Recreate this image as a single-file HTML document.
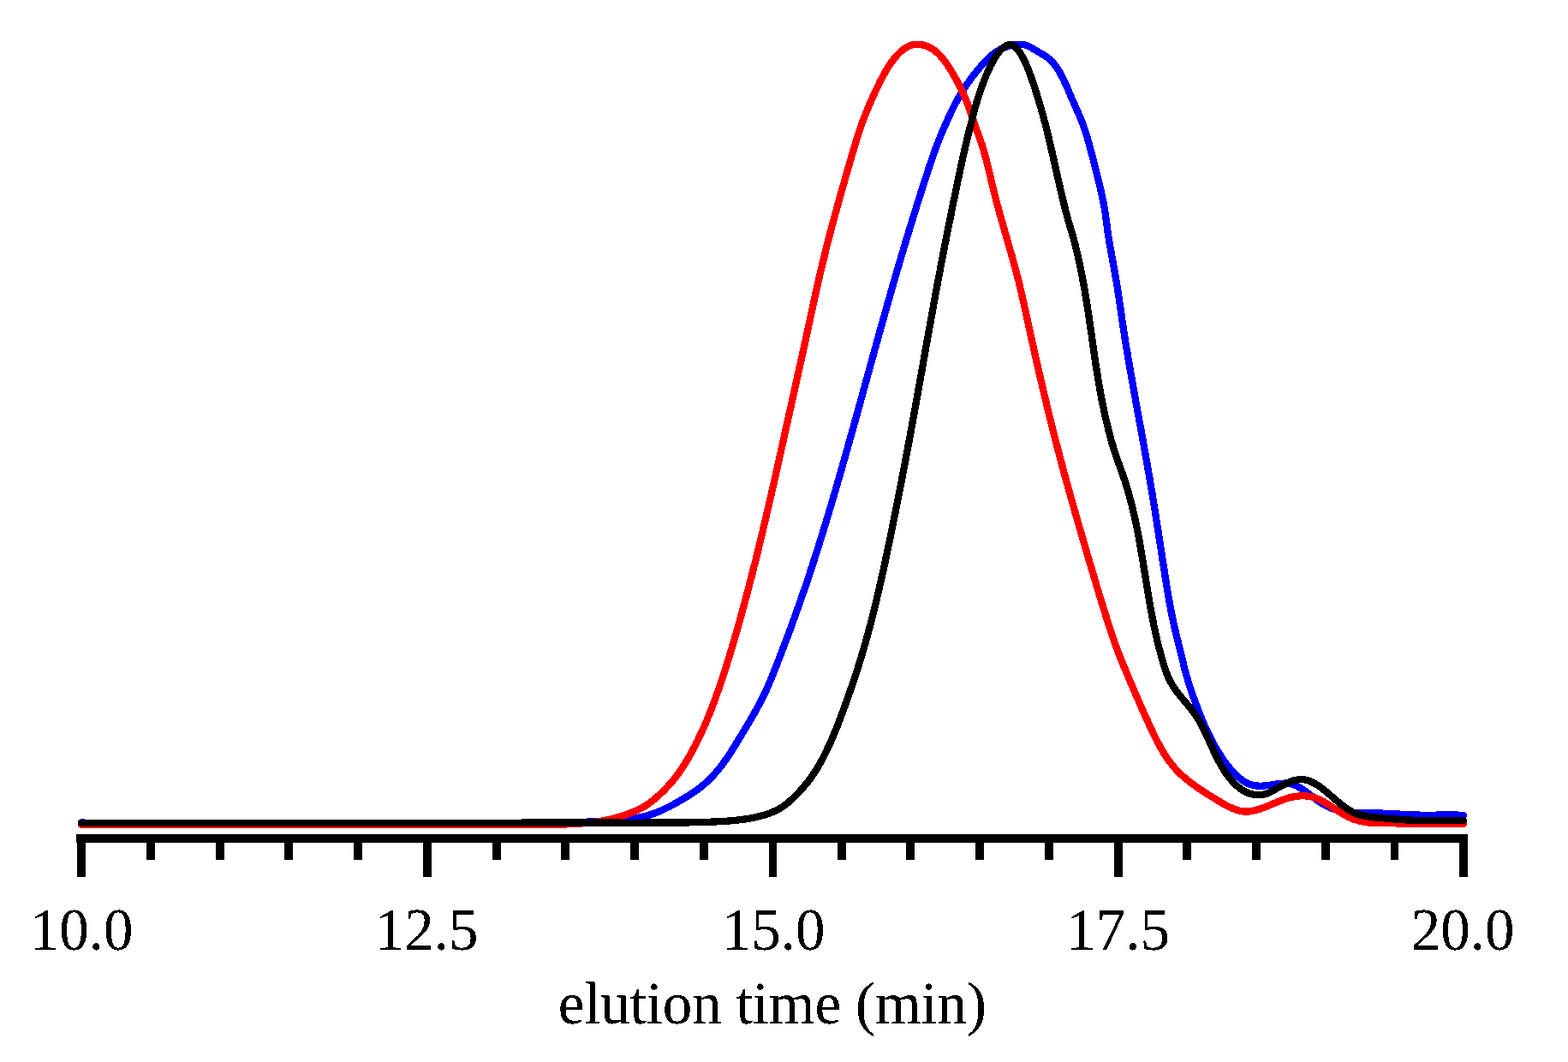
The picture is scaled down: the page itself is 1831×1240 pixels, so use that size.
<!DOCTYPE html>
<html lang="en">
<head>
<meta charset="utf-8">
<title>elution time (min)</title>
<style>
html,body{margin:0;padding:0;background:#fff;}
body{width:1831px;height:1240px;overflow:hidden;}
svg{display:block;}
text{font-family:"Liberation Serif","DejaVu Serif",serif;font-size:69px;fill:#000;}
.c{fill:none;stroke-width:8.3;stroke-linecap:round;stroke-linejoin:round;}
</style>
</head>
<body>
<svg width="1831" height="1240" viewBox="0 0 1831 1240">
<defs><filter id="bw" x="0" y="0" width="100%" height="100%" filterUnits="userSpaceOnUse" color-interpolation-filters="sRGB"><feComponentTransfer><feFuncA type="discrete" tableValues="0 0 1 1 1"/></feComponentTransfer></filter></defs>
<rect width="1831" height="1240" fill="#fff"/>
<g shape-rendering="crispEdges">
<path class="c" stroke="#0000ff" d="M95 960.4L97.5 960.6L100 960.7L102.5 960.7L105 960.8L107.5 960.8L110 960.9L112.5 960.9L115 960.9L117.5 960.9L120 961L122.5 961L125 961L127.5 961L130 961L132.5 961L135 961.1L137.5 961.1L140.1 961.1L142.6 961.1L145.1 961.1L147.6 961.1L150.1 961.1L152.6 961.1L155.1 961.1L157.6 961.1L160.1 961.1L162.6 961.1L165.1 961.1L167.6 961.1L170.1 961.1L172.6 961.1L175.1 961.1L177.6 961.1L180.1 961.1L182.6 961.1L185.1 961.1L187.6 961.1L190.1 961.1L192.6 961.1L195.1 961.1L197.7 961.1L200.2 961.1L202.7 961.1L205.2 961.1L207.7 961.1L210.2 961.1L212.7 961.1L215.2 961.1L217.7 961.1L220.2 961.1L222.7 961.1L225.2 961.1L227.7 961.1L230.2 961.1L232.7 961.1L235.2 961.1L237.7 961.1L240.2 961.1L242.7 961.1L245.2 961.1L247.7 961.1L250.2 961.1L252.7 961.1L255.2 961.1L257.8 961.1L260.3 961.1L262.8 961.1L265.3 961.1L267.8 961L270.3 961L272.8 961L275.3 961L277.8 961L280.3 961L282.8 961L285.3 961L287.8 961L290.3 961L292.8 961L295.3 961L297.8 961L300.3 961L302.8 961L305.3 961L307.8 961L310.3 961L312.8 961L315.4 961L317.9 961L320.4 961L322.9 961L325.4 961L327.9 961L330.4 961L332.9 961L335.4 961L337.9 961L340.4 961L342.9 961L345.4 961L347.9 961L350.4 960.9L352.9 960.9L355.4 960.9L357.9 960.9L360.4 960.9L362.9 960.9L365.4 960.9L367.9 960.9L370.4 960.9L372.9 960.9L375.5 960.9L378 960.9L380.5 960.9L383 960.9L385.5 960.9L388 960.9L390.5 960.9L393 960.9L395.5 960.9L398 960.9L400.5 960.9L403 960.9L405.5 960.9L408 960.9L410.5 960.9L413 960.9L415.5 960.9L418 960.9L420.5 960.9L423 960.9L425.5 960.9L428 960.9L430.5 960.9L433 960.9L435.6 960.9L438.1 960.9L440.6 960.9L443.1 960.9L445.6 961L448.1 961L450.6 961L453.1 961L455.6 961L458.1 961L460.6 961L463.1 961L465.6 961L468.1 961L470.6 961L473.1 961L475.6 961L478.1 961L480.6 961L483.1 961L485.6 961L488.1 961L490.6 961L493.2 961L495.7 961L498.2 961L500.7 961L503.2 961L505.7 961L508.2 961L510.7 961L513.2 961L515.7 961L518.2 961L520.7 961L523.2 961L525.7 961L528.2 961L530.7 961L533.2 961L535.7 961.1L538.2 961.1L540.7 961.1L543.2 961.1L545.7 961.1L548.2 961.1L550.7 961.1L553.3 961.1L555.8 961.1L558.3 961.1L560.8 961.1L563.3 961.1L565.8 961.1L568.3 961.1L570.8 961.1L573.3 961.1L575.8 961.1L578.3 961.1L580.8 961.1L583.3 961.1L585.8 961.1L588.3 961.1L590.8 961.1L593.3 961.1L595.8 961.1L598.3 961.1L600.8 961L603.3 961L605.8 961L608.3 961L610.9 961L613.4 961L615.9 961L618.4 961L620.9 961L623.4 960.9L625.9 960.9L628.4 960.9L630.9 960.9L633.4 960.9L635.9 960.8L638.4 960.8L640.9 960.8L643.4 960.7L645.9 960.7L648.4 960.6L650.9 960.6L653.4 960.5L655.9 960.5L658.4 960.4L660.9 960.3L663.4 960.2L665.9 960.2L668.4 960.1L670.9 960L673.4 959.9L675.9 959.9L678.5 959.8L681 959.7L683.5 959.7L686 959.6L688.5 959.5L691 959.4L693.5 959.3L696 959.2L698.5 959.1L701 959L703.5 958.9L706 958.8L708.5 958.7L711 958.5L713.5 958.3L716 958.2L718.5 958L721 957.8L723.5 957.6L726 957.3L728.5 957.1L730.9 956.8L733.4 956.5L735.9 956.2L738.4 955.9L740.9 955.5L743.3 955.1L745.8 954.6L748.3 954.1L750.7 953.6L753.1 953L755.6 952.4L758 951.7L760.4 950.9L762.7 950.1L765.1 949.3L767.4 948.4L769.7 947.5L772 946.5L774.3 945.4L776.6 944.3L778.8 943.2L781.1 942.1L783.3 940.9L785.5 939.7L787.7 938.5L789.8 937.3L792 936.1L794.2 934.8L796.4 933.6L798.5 932.3L800.7 931L802.8 929.7L804.9 928.4L807.1 927L809.1 925.7L811.2 924.3L813.3 922.8L815.3 921.3L817.3 919.8L819.2 918.2L821.2 916.6L823.1 915L824.9 913.3L826.8 911.6L828.6 909.9L830.3 908.1L832 906.3L833.7 904.5L835.4 902.6L837.1 900.7L838.7 898.8L840.2 896.8L841.8 894.9L843.3 892.9L844.8 890.9L846.2 888.8L847.7 886.8L849.1 884.7L850.5 882.6L851.9 880.5L853.3 878.5L854.6 876.3L856 874.2L857.3 872.1L858.6 870L859.9 867.9L861.2 865.7L862.5 863.6L863.8 861.4L865.1 859.3L866.4 857.1L867.7 855L869 852.9L870.3 850.7L871.6 848.6L872.9 846.4L874.1 844.3L875.4 842.1L876.7 839.9L877.9 837.8L879.2 835.6L880.4 833.4L881.7 831.3L882.9 829.1L884.1 826.9L885.3 824.7L886.5 822.5L887.7 820.3L888.8 818.1L890 815.8L891.1 813.6L892.2 811.3L893.3 809.1L894.3 806.8L895.4 804.5L896.4 802.2L897.4 799.9L898.4 797.6L899.3 795.3L900.3 793L901.3 790.7L902.2 788.4L903.1 786L904 783.7L905 781.4L905.9 779.1L906.8 776.7L907.7 774.4L908.6 772L909.5 769.7L910.4 767.4L911.3 765L912.2 762.7L913.1 760.4L914 758L914.8 755.7L915.7 753.3L916.6 751L917.5 748.7L918.4 746.3L919.3 744L920.2 741.6L921 739.3L921.9 736.9L922.8 734.6L923.7 732.2L924.5 729.9L925.4 727.5L926.2 725.2L927.1 722.8L928 720.5L928.8 718.1L929.7 715.8L930.5 713.4L931.3 711L932.2 708.7L933 706.3L933.8 704L934.7 701.6L935.5 699.2L936.3 696.9L937.1 694.5L937.9 692.1L938.8 689.8L939.6 687.4L940.4 685L941.2 682.7L942 680.3L942.8 677.9L943.6 675.5L944.4 673.2L945.2 670.8L945.9 668.4L946.7 666L947.5 663.6L948.3 661.3L949.1 658.9L949.8 656.5L950.6 654.1L951.4 651.7L952.1 649.4L952.9 647L953.7 644.6L954.4 642.2L955.2 639.8L955.9 637.4L956.7 635L957.4 632.6L958.2 630.2L958.9 627.9L959.7 625.5L960.4 623.1L961.1 620.7L961.9 618.3L962.6 615.9L963.3 613.5L964.1 611.1L964.8 608.7L965.5 606.3L966.2 603.9L967 601.5L967.7 599.1L968.4 596.7L969.1 594.3L969.8 591.9L970.6 589.5L971.3 587.1L972 584.7L972.7 582.3L973.4 579.9L974.1 577.5L974.8 575.1L975.5 572.7L976.2 570.3L976.9 567.9L977.6 565.5L978.3 563.1L979 560.7L979.7 558.3L980.4 555.9L981.1 553.5L981.8 551.1L982.5 548.6L983.1 546.2L983.8 543.8L984.5 541.4L985.2 539L985.9 536.6L986.6 534.2L987.3 531.8L987.9 529.4L988.6 527L989.3 524.6L990 522.1L990.7 519.7L991.3 517.3L992 514.9L992.7 512.5L993.4 510.1L994 507.7L994.7 505.3L995.4 502.9L996.1 500.4L996.7 498L997.4 495.6L998.1 493.2L998.7 490.8L999.4 488.4L1000.1 486L1000.8 483.6L1001.4 481.1L1002.1 478.7L1002.8 476.3L1003.4 473.9L1004.1 471.5L1004.8 469.1L1005.4 466.7L1006.1 464.2L1006.8 461.8L1007.4 459.4L1008.1 457L1008.7 454.6L1009.4 452.2L1010.1 449.8L1010.7 447.3L1011.4 444.9L1012.1 442.5L1012.7 440.1L1013.4 437.7L1014.1 435.3L1014.7 432.9L1015.4 430.4L1016.1 428L1016.7 425.6L1017.4 423.2L1018.1 420.8L1018.7 418.4L1019.4 416L1020.1 413.5L1020.7 411.1L1021.4 408.7L1022.1 406.3L1022.7 403.9L1023.4 401.5L1024.1 399.1L1024.7 396.6L1025.4 394.2L1026.1 391.8L1026.7 389.4L1027.4 387L1028.1 384.6L1028.8 382.2L1029.4 379.8L1030.1 377.3L1030.8 374.9L1031.5 372.5L1032.1 370.1L1032.8 367.7L1033.5 365.3L1034.2 362.9L1034.9 360.5L1035.5 358.1L1036.2 355.7L1036.9 353.2L1037.6 350.8L1038.3 348.4L1039 346L1039.6 343.6L1040.3 341.2L1041 338.8L1041.7 336.4L1042.4 334L1043.1 331.6L1043.8 329.2L1044.5 326.8L1045.2 324.4L1045.9 321.9L1046.6 319.5L1047.3 317.1L1048 314.7L1048.7 312.3L1049.4 309.9L1050.1 307.5L1050.8 305.1L1051.5 302.7L1052.2 300.3L1052.9 297.9L1053.6 295.5L1054.4 293.1L1055.1 290.7L1055.8 288.3L1056.5 285.9L1057.2 283.5L1058 281.1L1058.7 278.7L1059.4 276.3L1060.1 273.9L1060.9 271.5L1061.6 269.1L1062.3 266.8L1063.1 264.4L1063.8 262L1064.6 259.6L1065.3 257.2L1066 254.8L1066.8 252.4L1067.5 250L1068.3 247.6L1069 245.2L1069.8 242.8L1070.5 240.4L1071.3 238.1L1072 235.7L1072.8 233.3L1073.5 230.9L1074.3 228.5L1075 226.1L1075.8 223.7L1076.6 221.3L1077.3 219L1078.1 216.6L1078.8 214.2L1079.6 211.8L1080.4 209.4L1081.1 207L1081.9 204.7L1082.7 202.3L1083.5 199.9L1084.2 197.5L1085 195.1L1085.8 192.8L1086.6 190.4L1087.4 188L1088.2 185.6L1089 183.3L1089.9 180.9L1090.7 178.6L1091.6 176.2L1092.4 173.8L1093.3 171.5L1094.2 169.2L1095.1 166.8L1096 164.5L1096.9 162.2L1097.9 159.8L1098.8 157.5L1099.8 155.2L1100.8 152.9L1101.8 150.6L1102.8 148.3L1103.8 146L1104.8 143.7L1105.8 141.5L1106.8 139.2L1107.9 136.9L1108.9 134.6L1110 132.3L1111 130.1L1112.1 127.8L1113.2 125.6L1114.4 123.3L1115.5 121.1L1116.7 118.9L1117.9 116.7L1119.1 114.5L1120.3 112.3L1121.6 110.2L1122.9 108L1124.2 105.9L1125.6 103.8L1126.9 101.7L1128.3 99.6L1129.7 97.6L1131.2 95.5L1132.6 93.5L1134.1 91.4L1135.6 89.4L1137.2 87.5L1138.7 85.5L1140.3 83.5L1141.9 81.6L1143.5 79.7L1145.1 77.8L1146.8 75.9L1148.4 74L1150.1 72.2L1151.8 70.4L1153.6 68.6L1155.4 66.9L1157.3 65.2L1159.2 63.6L1161.2 62.1L1163.2 60.6L1165.4 59.3L1167.5 58.1L1169.8 56.9L1172 55.9L1174.4 55L1176.7 54.1L1179.1 53.4L1181.6 52.8L1184 52.3L1186.5 51.9L1189 51.7L1191.5 51.7L1194 51.8L1196.4 52.3L1198.8 53L1201.2 54L1203.4 55.1L1205.6 56.3L1207.7 57.7L1209.8 59L1212 60.3L1214.1 61.5L1216.3 62.8L1218.5 64L1220.6 65.4L1222.6 66.8L1224.6 68.3L1226.5 70L1228.3 71.8L1229.9 73.6L1231.5 75.6L1233 77.6L1234.4 79.6L1235.8 81.7L1237.1 83.9L1238.3 86.1L1239.5 88.3L1240.7 90.5L1241.8 92.7L1242.9 95L1243.9 97.3L1245 99.5L1246 101.8L1247 104.1L1248 106.4L1248.9 108.7L1249.9 111L1250.9 113.3L1251.9 115.6L1252.9 117.9L1253.9 120.2L1254.9 122.5L1255.9 124.8L1256.9 127.1L1257.9 129.4L1259 131.7L1260 134L1261 136.3L1261.9 138.6L1262.9 140.9L1263.8 143.2L1264.7 145.6L1265.5 147.9L1266.4 150.3L1267.2 152.7L1267.9 155L1268.7 157.4L1269.4 159.8L1270.1 162.2L1270.8 164.6L1271.5 167.1L1272.1 169.5L1272.8 171.9L1273.4 174.3L1274.1 176.7L1274.7 179.2L1275.3 181.6L1276 184L1276.6 186.4L1277.2 188.8L1277.8 191.3L1278.5 193.7L1279.1 196.1L1279.7 198.6L1280.3 201L1280.9 203.4L1281.5 205.8L1282.1 208.3L1282.7 210.7L1283.3 213.1L1283.9 215.6L1284.5 218L1285 220.5L1285.6 222.9L1286.1 225.3L1286.7 227.8L1287.2 230.2L1287.7 232.7L1288.2 235.1L1288.7 237.6L1289.1 240.1L1289.6 242.5L1290 245L1290.4 247.5L1290.8 249.9L1291.1 252.4L1291.5 254.9L1291.8 257.4L1292.2 259.9L1292.5 262.3L1292.8 264.8L1293.1 267.3L1293.4 269.8L1293.8 272.3L1294.1 274.8L1294.5 277.2L1294.9 279.7L1295.3 282.2L1295.7 284.7L1296.1 287.1L1296.6 289.6L1297 292L1297.5 294.5L1297.9 297L1298.4 299.4L1298.8 301.9L1299.3 304.4L1299.7 306.8L1300.2 309.3L1300.6 311.7L1301.1 314.2L1301.5 316.7L1302 319.1L1302.4 321.6L1302.8 324.1L1303.3 326.5L1303.7 329L1304.1 331.5L1304.5 334L1304.9 336.4L1305.3 338.9L1305.7 341.4L1306 343.9L1306.4 346.3L1306.8 348.8L1307.1 351.3L1307.5 353.8L1307.8 356.2L1308.2 358.7L1308.6 361.2L1308.9 363.7L1309.3 366.2L1309.6 368.6L1310 371.1L1310.3 373.6L1310.7 376.1L1311.1 378.5L1311.4 381L1311.8 383.5L1312.2 386L1312.6 388.5L1313 390.9L1313.3 393.4L1313.7 395.9L1314.1 398.3L1314.5 400.8L1314.9 403.3L1315.3 405.8L1315.8 408.2L1316.2 410.7L1316.6 413.2L1317 415.6L1317.4 418.1L1317.8 420.6L1318.3 423L1318.7 425.5L1319.1 428L1319.5 430.5L1320 432.9L1320.4 435.4L1320.8 437.9L1321.3 440.3L1321.7 442.8L1322.1 445.3L1322.6 447.7L1323 450.2L1323.4 452.6L1323.9 455.1L1324.3 457.6L1324.8 460L1325.2 462.5L1325.7 465L1326.1 467.4L1326.5 469.9L1327 472.4L1327.4 474.8L1327.9 477.3L1328.3 479.8L1328.8 482.2L1329.2 484.7L1329.7 487.1L1330.1 489.6L1330.6 492.1L1331 494.5L1331.5 497L1331.9 499.5L1332.4 501.9L1332.8 504.4L1333.3 506.9L1333.7 509.3L1334.2 511.8L1334.6 514.3L1335 516.7L1335.5 519.2L1335.9 521.6L1336.4 524.1L1336.8 526.6L1337.3 529L1337.7 531.5L1338.1 534L1338.6 536.4L1339 538.9L1339.5 541.4L1339.9 543.8L1340.3 546.3L1340.7 548.8L1341.2 551.2L1341.6 553.7L1342 556.2L1342.5 558.6L1342.9 561.1L1343.3 563.6L1343.7 566L1344.1 568.5L1344.5 571L1345 573.5L1345.4 575.9L1345.8 578.4L1346.2 580.9L1346.6 583.3L1347 585.8L1347.4 588.3L1347.8 590.8L1348.2 593.2L1348.6 595.7L1349 598.2L1349.4 600.6L1349.8 603.1L1350.1 605.6L1350.5 608.1L1350.9 610.5L1351.3 613L1351.7 615.5L1352.1 618L1352.5 620.4L1352.8 622.9L1353.2 625.4L1353.6 627.9L1354 630.3L1354.4 632.8L1354.8 635.3L1355.1 637.8L1355.5 640.2L1355.9 642.7L1356.3 645.2L1356.7 647.7L1357 650.1L1357.4 652.6L1357.8 655.1L1358.2 657.6L1358.6 660L1359 662.5L1359.4 665L1359.8 667.5L1360.1 669.9L1360.5 672.4L1360.9 674.9L1361.3 677.4L1361.7 679.8L1362.1 682.3L1362.5 684.8L1362.9 687.2L1363.3 689.7L1363.7 692.2L1364.1 694.7L1364.6 697.1L1365 699.6L1365.4 702.1L1365.9 704.5L1366.3 707L1366.8 709.4L1367.2 711.9L1367.7 714.4L1368.2 716.8L1368.7 719.3L1369.2 721.7L1369.7 724.2L1370.2 726.6L1370.8 729.1L1371.3 731.5L1371.9 734L1372.5 736.4L1373 738.8L1373.6 741.3L1374.2 743.7L1374.9 746.1L1375.5 748.5L1376.1 751L1376.7 753.4L1377.3 755.8L1377.9 758.3L1378.5 760.7L1379.1 763.1L1379.7 765.6L1380.2 768L1380.8 770.4L1381.4 772.9L1382 775.3L1382.5 777.8L1383.1 780.2L1383.8 782.6L1384.4 785L1385.1 787.4L1385.8 789.9L1386.5 792.3L1387.2 794.7L1387.9 797L1388.7 799.4L1389.5 801.8L1390.2 804.2L1391 806.6L1391.9 808.9L1392.7 811.3L1393.5 813.7L1394.4 816L1395.2 818.4L1396.1 820.7L1396.9 823.1L1397.8 825.4L1398.7 827.8L1399.6 830.1L1400.5 832.4L1401.5 834.8L1402.4 837.1L1403.4 839.4L1404.3 841.7L1405.3 844L1406.3 846.3L1407.3 848.6L1408.4 850.9L1409.4 853.1L1410.5 855.4L1411.6 857.7L1412.7 859.9L1413.8 862.1L1414.9 864.4L1416.1 866.6L1417.3 868.8L1418.5 871L1419.8 873.2L1421 875.3L1422.3 877.5L1423.6 879.6L1425 881.7L1426.3 883.8L1427.7 885.9L1429.1 888L1430.6 890L1432.1 892L1433.6 894L1435.2 895.9L1436.8 897.9L1438.4 899.8L1440.1 901.6L1441.8 903.4L1443.6 905.2L1445.5 906.9L1447.4 908.5L1449.4 910L1451.4 911.5L1453.5 912.8L1455.7 914L1458 915.1L1460.3 916L1462.7 916.7L1465.2 917.2L1467.7 917.5L1470.2 917.7L1472.7 917.7L1475.2 917.6L1477.7 917.4L1480.1 917.1L1482.6 916.7L1485.1 916.3L1487.6 916L1490 915.6L1492.5 915.2L1495 914.9L1497.5 914.7L1500 914.6L1502.5 914.6L1505 914.8L1507.5 915.3L1509.9 915.9L1512.2 916.8L1514.5 917.8L1516.7 919L1518.9 920.3L1521 921.6L1523 923.1L1525.1 924.5L1527.1 926L1529.1 927.5L1531.1 929.1L1533 930.6L1535 932.1L1537.1 933.6L1539.1 935L1541.2 936.4L1543.3 937.8L1545.4 939.1L1547.6 940.3L1549.8 941.5L1552.1 942.5L1554.4 943.5L1556.7 944.5L1559.1 945.3L1561.5 946L1563.9 946.7L1566.3 947.2L1568.8 947.7L1571.3 948.1L1573.8 948.4L1576.2 948.6L1578.7 948.8L1581.2 948.9L1583.7 949L1586.3 949.1L1588.8 949.1L1591.3 949.1L1593.8 949.1L1596.3 949.2L1598.8 949.2L1601.3 949.2L1603.8 949.2L1606.3 949.3L1608.8 949.4L1611.3 949.5L1613.8 949.6L1616.3 949.7L1618.8 949.8L1621.3 949.9L1623.8 950L1626.3 950.2L1628.8 950.3L1631.3 950.4L1633.8 950.6L1636.3 950.7L1638.8 950.8L1641.3 951L1643.8 951.1L1646.3 951.2L1648.8 951.3L1651.3 951.4L1653.8 951.5L1656.3 951.6L1658.8 951.7L1661.3 951.7L1663.8 951.8L1666.3 951.8L1668.8 951.8L1671.3 951.8L1673.8 951.7L1676.3 951.7L1678.8 951.6L1681.4 951.6L1683.9 951.5L1686.4 951.5L1688.9 951.4L1691.4 951.4L1693.9 951.4L1696.4 951.5L1698.9 951.5L1701.4 951.6L1703.9 951.7L1706.4 951.8L1708.9 952"/>
<path class="c" stroke="#ff0000" d="M95 963.1L97.5 963.1L100 963.1L102.5 963.1L105 963.1L107.5 963.1L110 963.1L112.5 963.1L115 963.2L117.5 963.2L120 963.2L122.5 963.2L125.1 963.2L127.6 963.2L130.1 963.2L132.6 963.2L135.1 963.2L137.6 963.2L140.1 963.2L142.6 963.2L145.1 963.2L147.6 963.2L150.1 963.2L152.6 963.2L155.1 963.2L157.6 963.2L160.1 963.2L162.6 963.2L165.1 963.2L167.6 963.2L170.1 963.2L172.6 963.2L175.1 963.2L177.6 963.2L180.1 963.2L182.6 963.2L185.2 963.2L187.7 963.2L190.2 963.2L192.7 963.2L195.2 963.2L197.7 963.2L200.2 963.2L202.7 963.2L205.2 963.2L207.7 963.2L210.2 963.2L212.7 963.2L215.2 963.2L217.7 963.2L220.2 963.2L222.7 963.2L225.2 963.2L227.7 963.2L230.2 963.2L232.7 963.2L235.2 963.2L237.7 963.2L240.2 963.2L242.7 963.2L245.3 963.2L247.8 963.2L250.3 963.2L252.8 963.2L255.3 963.2L257.8 963.2L260.3 963.2L262.8 963.2L265.3 963.2L267.8 963.2L270.3 963.1L272.8 963.1L275.3 963.1L277.8 963.1L280.3 963.1L282.8 963.1L285.3 963.1L287.8 963.1L290.3 963.1L292.8 963.1L295.3 963.1L297.8 963.1L300.3 963.1L302.8 963.1L305.4 963.1L307.9 963.1L310.4 963.1L312.9 963.1L315.4 963.1L317.9 963.1L320.4 963.1L322.9 963.1L325.4 963.1L327.9 963.1L330.4 963.1L332.9 963.1L335.4 963.1L337.9 963.1L340.4 963L342.9 963L345.4 963L347.9 963L350.4 963L352.9 963L355.4 963L357.9 963L360.4 963L362.9 963L365.5 963L368 963L370.5 963L373 963L375.5 963L378 963L380.5 963L383 963L385.5 963L388 963L390.5 963L393 963L395.5 963L398 963L400.5 963L403 963L405.5 963L408 963L410.5 963L413 963L415.5 963L418 963L420.5 963L423 963L425.6 963L428.1 963L430.6 963L433.1 963L435.6 963L438.1 963L440.6 963L443.1 963L445.6 963L448.1 963L450.6 963L453.1 963L455.6 963L458.1 963L460.6 963L463.1 963L465.6 963L468.1 963L470.6 963L473.1 963L475.6 963L478.1 963L480.6 963L483.1 963L485.7 963L488.2 963L490.7 963L493.2 963.1L495.7 963.1L498.2 963.1L500.7 963.1L503.2 963.1L505.7 963.1L508.2 963.1L510.7 963.1L513.2 963.1L515.7 963.1L518.2 963.1L520.7 963.1L523.2 963.1L525.7 963.1L528.2 963.2L530.7 963.2L533.2 963.2L535.7 963.2L538.2 963.2L540.7 963.2L543.2 963.2L545.8 963.2L548.3 963.2L550.8 963.2L553.3 963.2L555.8 963.2L558.3 963.2L560.8 963.3L563.3 963.3L565.8 963.3L568.3 963.3L570.8 963.3L573.3 963.3L575.8 963.3L578.3 963.3L580.8 963.3L583.3 963.3L585.8 963.3L588.3 963.3L590.8 963.3L593.3 963.3L595.8 963.3L598.3 963.3L600.8 963.3L603.3 963.3L605.9 963.3L608.4 963.2L610.9 963.2L613.4 963.2L615.9 963.2L618.4 963.2L620.9 963.2L623.4 963.1L625.9 963.1L628.4 963.1L630.9 963.1L633.4 963L635.9 963L638.4 963L640.9 962.9L643.4 962.9L645.9 962.8L648.4 962.8L650.9 962.7L653.4 962.6L655.9 962.6L658.4 962.5L660.9 962.4L663.4 962.3L665.9 962.2L668.4 962.1L670.9 961.9L673.4 961.8L675.9 961.6L678.4 961.5L680.9 961.3L683.4 961L685.9 960.8L688.4 960.6L690.9 960.3L693.4 960L695.9 959.6L698.3 959.3L700.8 958.9L703.3 958.4L705.7 958L708.2 957.5L710.6 957L713.1 956.4L715.5 955.8L717.9 955.2L720.4 954.5L722.8 953.8L725.2 953.1L727.6 952.3L729.9 951.6L732.3 950.7L734.6 949.9L737 949L739.3 948L741.6 947.1L743.9 946L746.2 944.9L748.4 943.8L750.6 942.6L752.7 941.4L754.9 940L757 938.6L759 937.2L761 935.7L763 934.1L764.9 932.5L766.8 930.9L768.7 929.2L770.5 927.5L772.3 925.8L774.1 924.1L775.9 922.3L777.6 920.5L779.3 918.7L781 916.8L782.7 915L784.3 913.1L786 911.2L787.6 909.2L789.1 907.3L790.6 905.3L792.1 903.3L793.6 901.2L795 899.2L796.4 897.1L797.8 895L799.1 892.9L800.4 890.7L801.7 888.6L803 886.4L804.2 884.3L805.5 882.1L806.7 879.9L807.9 877.7L809.1 875.5L810.2 873.3L811.4 871.1L812.5 868.8L813.6 866.6L814.8 864.3L815.9 862.1L816.9 859.8L818 857.6L819.1 855.3L820.1 853L821.2 850.8L822.2 848.5L823.2 846.2L824.2 843.9L825.2 841.6L826.1 839.3L827.1 836.9L828 834.6L829 832.3L829.9 830L830.8 827.6L831.7 825.3L832.6 823L833.5 820.6L834.3 818.3L835.2 815.9L836 813.6L836.9 811.2L837.7 808.8L838.6 806.5L839.4 804.1L840.2 801.8L841 799.4L841.8 797L842.6 794.6L843.4 792.3L844.2 789.9L845 787.5L845.7 785.1L846.5 782.7L847.3 780.4L848 778L848.8 775.6L849.5 773.2L850.3 770.8L851 768.4L851.7 766L852.5 763.6L853.2 761.2L853.9 758.8L854.6 756.4L855.4 754L856.1 751.6L856.8 749.2L857.5 746.8L858.2 744.4L858.9 742L859.6 739.6L860.3 737.2L861 734.8L861.7 732.4L862.3 730L863 727.6L863.7 725.2L864.4 722.7L865 720.3L865.7 717.9L866.4 715.5L867 713.1L867.7 710.7L868.3 708.3L869 705.8L869.6 703.4L870.3 701L870.9 698.6L871.6 696.2L872.2 693.7L872.9 691.3L873.5 688.9L874.1 686.5L874.8 684L875.4 681.6L876 679.2L876.6 676.8L877.3 674.3L877.9 671.9L878.5 669.5L879.1 667.1L879.7 664.6L880.3 662.2L880.9 659.8L881.6 657.4L882.2 654.9L882.8 652.5L883.4 650.1L884 647.6L884.6 645.2L885.2 642.8L885.8 640.3L886.4 637.9L886.9 635.5L887.5 633L888.1 630.6L888.7 628.2L889.3 625.7L889.9 623.3L890.5 620.9L891 618.4L891.6 616L892.2 613.6L892.8 611.1L893.3 608.7L893.9 606.2L894.5 603.8L895.1 601.4L895.6 598.9L896.2 596.5L896.8 594L897.3 591.6L897.9 589.2L898.4 586.7L899 584.3L899.6 581.8L900.1 579.4L900.7 577L901.2 574.5L901.8 572.1L902.3 569.6L902.9 567.2L903.5 564.8L904 562.3L904.6 559.9L905.1 557.4L905.7 555L906.2 552.5L906.8 550.1L907.3 547.7L907.9 545.2L908.4 542.8L908.9 540.3L909.5 537.9L910 535.4L910.6 533L911.1 530.5L911.7 528.1L912.2 525.7L912.8 523.2L913.3 520.8L913.8 518.3L914.4 515.9L914.9 513.4L915.5 511L916 508.5L916.5 506.1L917.1 503.6L917.6 501.2L918.2 498.8L918.7 496.3L919.2 493.9L919.8 491.4L920.3 489L920.9 486.5L921.4 484.1L922 481.6L922.5 479.2L923 476.8L923.6 474.3L924.1 471.9L924.7 469.4L925.2 467L925.7 464.5L926.3 462.1L926.8 459.6L927.4 457.2L927.9 454.8L928.5 452.3L929 449.9L929.5 447.4L930.1 445L930.6 442.5L931.2 440.1L931.7 437.6L932.3 435.2L932.8 432.7L933.3 430.3L933.9 427.9L934.4 425.4L935 423L935.5 420.5L936 418.1L936.6 415.6L937.1 413.2L937.7 410.7L938.2 408.3L938.7 405.9L939.3 403.4L939.8 401L940.3 398.5L940.9 396.1L941.4 393.6L942 391.2L942.5 388.7L943 386.3L943.5 383.8L944.1 381.4L944.6 378.9L945.1 376.5L945.7 374L946.2 371.6L946.7 369.1L947.2 366.7L947.8 364.2L948.3 361.8L948.8 359.4L949.4 356.9L949.9 354.5L950.4 352L950.9 349.6L951.5 347.1L952 344.7L952.6 342.2L953.1 339.8L953.6 337.3L954.2 334.9L954.7 332.4L955.3 330L955.8 327.6L956.4 325.1L956.9 322.7L957.5 320.2L958.1 317.8L958.7 315.4L959.2 312.9L959.8 310.5L960.4 308.1L961 305.6L961.6 303.2L962.2 300.8L962.8 298.3L963.4 295.9L964 293.5L964.6 291L965.2 288.6L965.8 286.2L966.4 283.7L967 281.3L967.7 278.9L968.3 276.5L968.9 274L969.5 271.6L970.2 269.2L970.8 266.8L971.5 264.4L972.1 261.9L972.8 259.5L973.4 257.1L974.1 254.7L974.7 252.3L975.4 249.9L976 247.4L976.7 245L977.3 242.6L978 240.2L978.7 237.8L979.3 235.4L980 233L980.7 230.5L981.4 228.1L982 225.7L982.7 223.3L983.4 220.9L984.1 218.5L984.8 216.1L985.5 213.7L986.1 211.3L986.8 208.9L987.5 206.4L988.2 204L988.9 201.6L989.6 199.2L990.3 196.8L991 194.4L991.7 192L992.4 189.6L993.1 187.2L993.8 184.8L994.5 182.4L995.2 180L995.9 177.6L996.6 175.2L997.3 172.8L998.1 170.4L998.8 168L999.5 165.6L1000.2 163.2L1001 160.8L1001.7 158.4L1002.5 156L1003.3 153.7L1004.1 151.3L1004.9 148.9L1005.7 146.5L1006.5 144.2L1007.4 141.8L1008.3 139.5L1009.1 137.1L1010.1 134.8L1011 132.5L1011.9 130.2L1012.9 127.9L1013.9 125.5L1014.8 123.2L1015.8 120.9L1016.8 118.7L1017.9 116.4L1018.9 114.1L1019.9 111.8L1020.9 109.5L1022 107.2L1023.1 105L1024.1 102.7L1025.2 100.4L1026.3 98.2L1027.4 95.9L1028.5 93.7L1029.7 91.5L1030.8 89.3L1032 87.1L1033.3 84.9L1034.5 82.7L1035.8 80.6L1037.1 78.4L1038.5 76.3L1039.9 74.3L1041.3 72.2L1042.8 70.2L1044.4 68.2L1046 66.3L1047.6 64.4L1049.4 62.6L1051.2 60.9L1053 59.2L1055 57.6L1057 56.2L1059.2 54.9L1061.4 53.8L1063.7 52.9L1066.2 52.2L1068.6 51.9L1071.1 51.7L1073.6 51.9L1076.1 52.2L1078.6 52.7L1081 53.4L1083.3 54.3L1085.6 55.4L1087.8 56.6L1089.9 58L1091.9 59.4L1093.8 61L1095.7 62.7L1097.4 64.5L1099.1 66.3L1100.7 68.2L1102.3 70.2L1103.8 72.2L1105.3 74.2L1106.7 76.3L1108.1 78.4L1109.4 80.5L1110.7 82.7L1112 84.8L1113.2 87L1114.5 89.1L1115.7 91.3L1116.9 93.5L1118.1 95.7L1119.3 97.9L1120.4 100.2L1121.6 102.4L1122.7 104.6L1123.7 106.9L1124.8 109.2L1125.8 111.5L1126.8 113.8L1127.8 116.1L1128.7 118.4L1129.6 120.7L1130.5 123.1L1131.4 125.4L1132.2 127.8L1133 130.1L1133.8 132.5L1134.6 134.9L1135.4 137.3L1136.2 139.6L1137 142L1137.8 144.4L1138.7 146.7L1139.5 149.1L1140.4 151.5L1141.2 153.8L1142.1 156.1L1143 158.5L1143.8 160.8L1144.7 163.2L1145.5 165.6L1146.3 167.9L1147.1 170.3L1147.8 172.7L1148.5 175.1L1149.2 177.5L1149.9 179.9L1150.5 182.4L1151.2 184.8L1151.8 187.2L1152.4 189.6L1153 192.1L1153.6 194.5L1154.2 196.9L1154.8 199.4L1155.4 201.8L1156 204.2L1156.6 206.7L1157.1 209.1L1157.7 211.5L1158.3 214L1158.9 216.4L1159.5 218.8L1160.1 221.3L1160.7 223.7L1161.3 226.1L1161.9 228.6L1162.5 231L1163.2 233.4L1163.8 235.8L1164.4 238.3L1165.1 240.7L1165.7 243.1L1166.4 245.5L1167 247.9L1167.7 250.3L1168.4 252.8L1169 255.2L1169.7 257.6L1170.4 260L1171.1 262.4L1171.8 264.8L1172.5 267.2L1173.2 269.6L1173.9 272L1174.6 274.4L1175.3 276.8L1176 279.2L1176.6 281.6L1177.3 284L1178 286.5L1178.7 288.9L1179.4 291.3L1180.1 293.7L1180.8 296.1L1181.5 298.5L1182.2 300.9L1182.8 303.3L1183.5 305.7L1184.2 308.1L1184.8 310.6L1185.5 313L1186.1 315.4L1186.8 317.8L1187.4 320.2L1188 322.7L1188.7 325.1L1189.3 327.5L1189.9 329.9L1190.5 332.4L1191.1 334.8L1191.6 337.2L1192.2 339.7L1192.8 342.1L1193.3 344.6L1193.9 347L1194.4 349.4L1195 351.9L1195.5 354.3L1196.1 356.8L1196.6 359.2L1197.2 361.7L1197.7 364.1L1198.2 366.6L1198.8 369L1199.3 371.5L1199.8 373.9L1200.3 376.4L1200.9 378.8L1201.4 381.2L1201.9 383.7L1202.5 386.1L1203 388.6L1203.6 391L1204.1 393.5L1204.6 395.9L1205.2 398.4L1205.7 400.8L1206.3 403.3L1206.8 405.7L1207.3 408.1L1207.9 410.6L1208.4 413L1209 415.5L1209.5 417.9L1210.1 420.4L1210.6 422.8L1211.2 425.2L1211.8 427.7L1212.3 430.1L1212.9 432.6L1213.4 435L1214 437.4L1214.6 439.9L1215.1 442.3L1215.7 444.8L1216.3 447.2L1216.8 449.6L1217.4 452.1L1218 454.5L1218.5 457L1219.1 459.4L1219.7 461.8L1220.3 464.3L1220.9 466.7L1221.5 469.1L1222 471.6L1222.6 474L1223.2 476.4L1223.8 478.9L1224.4 481.3L1225 483.7L1225.6 486.2L1226.2 488.6L1226.8 491L1227.4 493.5L1228 495.9L1228.6 498.3L1229.2 500.8L1229.8 503.2L1230.4 505.6L1231 508L1231.7 510.5L1232.3 512.9L1232.9 515.3L1233.5 517.7L1234.2 520.2L1234.8 522.6L1235.4 525L1236 527.4L1236.7 529.9L1237.3 532.3L1238 534.7L1238.6 537.1L1239.2 539.5L1239.9 542L1240.5 544.4L1241.2 546.8L1241.8 549.2L1242.5 551.6L1243.1 554.1L1243.8 556.5L1244.5 558.9L1245.1 561.3L1245.8 563.7L1246.5 566.1L1247.1 568.5L1247.8 571L1248.5 573.4L1249.1 575.8L1249.8 578.2L1250.5 580.6L1251.2 583L1251.8 585.4L1252.5 587.8L1253.2 590.2L1253.9 592.7L1254.6 595.1L1255.2 597.5L1255.9 599.9L1256.6 602.3L1257.3 604.7L1258 607.1L1258.7 609.5L1259.4 611.9L1260.1 614.3L1260.8 616.7L1261.5 619.1L1262.2 621.5L1262.9 623.9L1263.6 626.3L1264.3 628.8L1265 631.2L1265.7 633.6L1266.4 636L1267.1 638.4L1267.8 640.8L1268.5 643.2L1269.2 645.6L1269.9 648L1270.6 650.4L1271.3 652.8L1272 655.2L1272.8 657.6L1273.5 660L1274.2 662.4L1274.9 664.8L1275.6 667.2L1276.3 669.6L1277 672L1277.8 674.4L1278.5 676.8L1279.2 679.2L1279.9 681.6L1280.6 684L1281.4 686.4L1282.1 688.8L1282.8 691.2L1283.5 693.6L1284.3 696L1285 698.4L1285.7 700.7L1286.4 703.1L1287.2 705.5L1287.9 707.9L1288.7 710.3L1289.4 712.7L1290.1 715.1L1290.9 717.5L1291.6 719.9L1292.4 722.3L1293.2 724.7L1293.9 727L1294.7 729.4L1295.5 731.8L1296.2 734.2L1297 736.6L1297.8 738.9L1298.6 741.3L1299.4 743.7L1300.2 746.1L1301 748.4L1301.9 750.8L1302.7 753.2L1303.5 755.5L1304.4 757.9L1305.3 760.2L1306.2 762.6L1307.1 764.9L1308 767.2L1308.9 769.6L1309.8 771.9L1310.8 774.2L1311.7 776.5L1312.7 778.8L1313.7 781.1L1314.6 783.4L1315.6 785.7L1316.6 788L1317.6 790.4L1318.5 792.7L1319.5 795L1320.5 797.3L1321.5 799.6L1322.5 801.9L1323.4 804.2L1324.4 806.5L1325.4 808.8L1326.4 811.1L1327.4 813.4L1328.4 815.7L1329.4 818L1330.4 820.3L1331.4 822.6L1332.4 824.9L1333.4 827.2L1334.4 829.4L1335.4 831.7L1336.5 834L1337.5 836.3L1338.5 838.6L1339.6 840.9L1340.6 843.1L1341.6 845.4L1342.7 847.7L1343.7 850L1344.8 852.2L1345.9 854.5L1347 856.8L1348 859L1349.2 861.3L1350.3 863.5L1351.4 865.7L1352.6 867.9L1353.8 870.2L1355 872.3L1356.2 874.5L1357.4 876.7L1358.7 878.8L1360.1 881L1361.4 883.1L1362.8 885.1L1364.2 887.2L1365.7 889.2L1367.2 891.2L1368.8 893.2L1370.4 895.1L1372 897L1373.7 898.9L1375.4 900.7L1377.2 902.5L1379 904.2L1380.8 905.9L1382.7 907.5L1384.6 909.2L1386.6 910.8L1388.5 912.3L1390.5 913.9L1392.5 915.4L1394.5 916.8L1396.6 918.3L1398.6 919.7L1400.7 921.1L1402.8 922.5L1404.8 923.9L1406.9 925.3L1409.1 926.6L1411.2 928L1413.3 929.3L1415.4 930.6L1417.6 931.9L1419.7 933.2L1421.8 934.5L1424 935.8L1426.1 937.1L1428.3 938.4L1430.5 939.6L1432.7 940.8L1434.9 941.9L1437.2 943L1439.5 944L1441.8 944.9L1444.2 945.8L1446.6 946.4L1449 947L1451.5 947.4L1454 947.6L1456.5 947.6L1459 947.4L1461.5 947.1L1463.9 946.6L1466.4 946L1468.8 945.4L1471.2 944.6L1473.5 943.8L1475.9 942.9L1478.2 942L1480.5 941.1L1482.8 940.1L1485.1 939.1L1487.4 938.1L1489.7 937.2L1492.1 936.2L1494.4 935.3L1496.7 934.4L1499.1 933.5L1501.4 932.7L1503.8 931.9L1506.2 931.3L1508.7 930.7L1511.1 930.2L1513.6 929.8L1516.1 929.5L1518.6 929.3L1521.1 929.2L1523.6 929.3L1526.1 929.5L1528.6 929.8L1531 930.3L1533.4 930.9L1535.8 931.6L1538.2 932.5L1540.5 933.5L1542.7 934.6L1544.9 935.8L1547.1 937L1549.2 938.3L1551.4 939.7L1553.5 941L1555.6 942.4L1557.6 943.8L1559.7 945.2L1561.8 946.5L1563.9 947.9L1566.1 949.2L1568.2 950.5L1570.4 951.7L1572.6 952.9L1574.8 954.1L1577.1 955.1L1579.4 956.1L1581.8 956.9L1584.2 957.7L1586.6 958.4L1589 958.9L1591.5 959.4L1593.9 959.9L1596.4 960.2L1598.9 960.5L1601.4 960.7L1603.9 960.9L1606.4 961L1608.9 961.1L1611.4 961.2L1613.9 961.2L1616.4 961.3L1618.9 961.3L1621.4 961.3L1623.9 961.3L1626.4 961.3L1628.9 961.3L1631.4 961.4L1633.9 961.4L1636.4 961.4L1638.9 961.5L1641.4 961.5L1643.9 961.6L1646.4 961.6L1648.9 961.7L1651.5 961.7L1654 961.7L1656.5 961.8L1659 961.8L1661.5 961.9L1664 961.9L1666.5 961.9L1669 962L1671.5 962L1674 962.1L1676.5 962.1L1679 962.1L1681.5 962.1L1684 962.2L1686.5 962.2L1689 962.2L1691.5 962.2L1694 962.2L1696.5 962.2L1699 962.2L1701.5 962.2L1704 962.1L1706.5 962.1L1709 962"/>
<path class="c" stroke="#000000" d="M95 961L97.5 961L100 961L102.5 961L105 961L107.5 961L110 961L112.5 961L115 961L117.5 961L120 961L122.5 961L125 961L127.5 960.9L130.1 960.9L132.6 960.9L135.1 960.9L137.6 960.9L140.1 960.9L142.6 960.9L145.1 960.9L147.6 960.9L150.1 960.9L152.6 960.9L155.1 960.9L157.6 960.9L160.1 960.9L162.6 960.9L165.1 960.9L167.6 960.9L170.1 960.9L172.6 960.9L175.1 960.9L177.6 960.9L180.1 960.9L182.6 960.9L185.1 960.9L187.6 960.9L190.1 960.9L192.6 960.9L195.1 960.9L197.7 960.9L200.2 960.9L202.7 960.9L205.2 960.9L207.7 960.9L210.2 960.9L212.7 960.9L215.2 960.9L217.7 960.9L220.2 960.9L222.7 960.9L225.2 960.9L227.7 960.9L230.2 960.9L232.7 960.9L235.2 960.9L237.7 960.9L240.2 960.9L242.7 961L245.2 961L247.7 961L250.2 961L252.7 961L255.2 961L257.7 961L260.2 961L262.8 961L265.3 961L267.8 961L270.3 961L272.8 961L275.3 961L277.8 961L280.3 961L282.8 961L285.3 961L287.8 961L290.3 961L292.8 961L295.3 961L297.8 961L300.3 961L302.8 961L305.3 961L307.8 961L310.3 961L312.8 961L315.3 961L317.8 961L320.3 961L322.8 961L325.3 961L327.9 961L330.4 961L332.9 961L335.4 961L337.9 961L340.4 961L342.9 961L345.4 961L347.9 961L350.4 961L352.9 961L355.4 961L357.9 961.1L360.4 961.1L362.9 961.1L365.4 961.1L367.9 961.1L370.4 961.1L372.9 961.1L375.4 961.1L377.9 961.1L380.4 961.1L382.9 961.1L385.4 961.1L387.9 961.1L390.4 961.1L392.9 961.1L395.5 961.1L398 961.1L400.5 961.1L403 961.1L405.5 961.1L408 961.1L410.5 961.1L413 961.1L415.5 961.1L418 961.1L420.5 961.1L423 961.1L425.5 961.1L428 961.1L430.5 961.1L433 961.1L435.5 961.1L438 961.1L440.5 961.1L443 961.1L445.5 961.1L448 961.1L450.5 961.1L453 961.1L455.5 961.1L458 961.1L460.6 961.1L463.1 961.1L465.6 961.1L468.1 961.1L470.6 961L473.1 961L475.6 961L478.1 961L480.6 961L483.1 961L485.6 961L488.1 961L490.6 961L493.1 961L495.6 961L498.1 961L500.6 961L503.1 961L505.6 961L508.1 961L510.6 961L513.1 961L515.6 961L518.1 961L520.6 960.9L523.1 960.9L525.6 960.9L528.2 960.9L530.7 960.9L533.2 960.9L535.7 960.9L538.2 960.9L540.7 960.9L543.2 960.9L545.7 960.9L548.2 960.9L550.7 960.8L553.2 960.8L555.7 960.8L558.2 960.8L560.7 960.8L563.2 960.8L565.7 960.8L568.2 960.8L570.7 960.8L573.2 960.8L575.7 960.8L578.2 960.7L580.7 960.7L583.2 960.7L585.7 960.7L588.2 960.7L590.7 960.7L593.3 960.7L595.8 960.7L598.3 960.7L600.8 960.7L603.3 960.7L605.8 960.7L608.3 960.7L610.8 960.6L613.3 960.6L615.8 960.6L618.3 960.6L620.8 960.6L623.3 960.6L625.8 960.6L628.3 960.6L630.8 960.6L633.3 960.6L635.8 960.6L638.3 960.6L640.8 960.6L643.3 960.6L645.8 960.6L648.3 960.6L650.8 960.6L653.3 960.6L655.8 960.6L658.3 960.6L660.9 960.6L663.4 960.6L665.9 960.6L668.4 960.6L670.9 960.6L673.4 960.6L675.9 960.6L678.4 960.6L680.9 960.6L683.4 960.6L685.9 960.6L688.4 960.6L690.9 960.6L693.4 960.6L695.9 960.6L698.4 960.6L700.9 960.6L703.4 960.6L705.9 960.6L708.4 960.6L710.9 960.6L713.4 960.6L715.9 960.6L718.4 960.6L720.9 960.6L723.4 960.6L726 960.7L728.5 960.7L731 960.7L733.5 960.7L736 960.7L738.5 960.7L741 960.7L743.5 960.7L746 960.7L748.5 960.7L751 960.7L753.5 960.6L756 960.6L758.5 960.6L761 960.6L763.5 960.6L766 960.6L768.5 960.6L771 960.6L773.5 960.6L776 960.6L778.5 960.6L781 960.6L783.5 960.6L786 960.5L788.5 960.5L791 960.5L793.6 960.5L796.1 960.5L798.6 960.4L801.1 960.4L803.6 960.4L806.1 960.3L808.6 960.3L811.1 960.2L813.6 960.2L816.1 960.1L818.6 960.1L821.1 960L823.6 959.9L826.1 959.8L828.6 959.7L831.1 959.6L833.6 959.5L836.1 959.4L838.6 959.3L841.1 959.2L843.6 959L846.1 958.9L848.6 958.7L851.1 958.5L853.6 958.3L856.1 958.1L858.6 957.8L861.1 957.6L863.6 957.3L866 957L868.5 956.6L871 956.3L873.5 955.9L875.9 955.5L878.4 955L880.9 954.5L883.3 954L885.7 953.4L888.2 952.8L890.6 952.1L893 951.4L895.4 950.7L897.7 949.9L900.1 949L902.4 948L904.7 947L907 946L909.2 944.8L911.3 943.5L913.5 942.2L915.5 940.8L917.5 939.3L919.5 937.7L921.4 936.1L923.3 934.5L925.2 932.8L927 931.1L928.8 929.3L930.5 927.6L932.3 925.8L934 923.9L935.7 922.1L937.3 920.2L938.9 918.3L940.5 916.4L942.1 914.4L943.7 912.4L945.2 910.4L946.7 908.4L948.1 906.4L949.5 904.3L950.9 902.3L952.3 900.2L953.6 898L954.9 895.9L956.2 893.7L957.4 891.5L958.6 889.4L959.8 887.2L961 884.9L962.1 882.7L963.3 880.5L964.4 878.2L965.4 876L966.5 873.7L967.6 871.4L968.6 869.2L969.7 866.9L970.7 864.6L971.7 862.3L972.7 860L973.6 857.7L974.6 855.4L975.6 853.1L976.5 850.8L977.5 848.4L978.4 846.1L979.3 843.8L980.2 841.4L981.1 839.1L982 836.8L982.8 834.4L983.7 832.1L984.6 829.7L985.4 827.4L986.3 825L987.1 822.7L988 820.3L988.8 817.9L989.6 815.6L990.5 813.2L991.3 810.9L992.1 808.5L993 806.1L993.8 803.8L994.6 801.4L995.4 799L996.2 796.7L997 794.3L997.8 791.9L998.6 789.5L999.4 787.2L1000.2 784.8L1001 782.4L1001.7 780L1002.5 777.6L1003.2 775.2L1004 772.9L1004.7 770.5L1005.5 768.1L1006.2 765.7L1006.9 763.3L1007.6 760.9L1008.3 758.5L1009 756.1L1009.7 753.7L1010.4 751.3L1011.1 748.8L1011.7 746.4L1012.4 744L1013.1 741.6L1013.7 739.2L1014.4 736.8L1015 734.3L1015.7 731.9L1016.3 729.5L1016.9 727.1L1017.6 724.7L1018.2 722.2L1018.8 719.8L1019.4 717.4L1020 714.9L1020.6 712.5L1021.2 710.1L1021.8 707.7L1022.4 705.2L1023 702.8L1023.6 700.3L1024.1 697.9L1024.7 695.5L1025.3 693L1025.9 690.6L1026.4 688.2L1027 685.7L1027.5 683.3L1028.1 680.8L1028.6 678.4L1029.2 676L1029.7 673.5L1030.3 671.1L1030.8 668.6L1031.4 666.2L1031.9 663.7L1032.4 661.3L1033 658.8L1033.5 656.4L1034 653.9L1034.5 651.5L1035.1 649L1035.6 646.6L1036.1 644.1L1036.6 641.7L1037.1 639.2L1037.6 636.8L1038.1 634.3L1038.7 631.9L1039.2 629.4L1039.7 627L1040.2 624.5L1040.7 622.1L1041.2 619.6L1041.7 617.2L1042.2 614.7L1042.7 612.3L1043.2 609.8L1043.7 607.4L1044.2 604.9L1044.7 602.5L1045.2 600L1045.7 597.5L1046.2 595.1L1046.6 592.6L1047.1 590.2L1047.6 587.7L1048.1 585.3L1048.6 582.8L1049.1 580.4L1049.6 577.9L1050 575.4L1050.5 573L1051 570.5L1051.5 568.1L1052 565.6L1052.4 563.2L1052.9 560.7L1053.4 558.2L1053.9 555.8L1054.3 553.3L1054.8 550.9L1055.3 548.4L1055.7 545.9L1056.2 543.5L1056.7 541L1057.1 538.6L1057.6 536.1L1058.1 533.6L1058.5 531.2L1059 528.7L1059.5 526.3L1059.9 523.8L1060.4 521.3L1060.8 518.9L1061.3 516.4L1061.8 514L1062.2 511.5L1062.7 509L1063.1 506.6L1063.6 504.1L1064 501.6L1064.5 499.2L1064.9 496.7L1065.4 494.3L1065.8 491.8L1066.3 489.3L1066.7 486.9L1067.2 484.4L1067.6 481.9L1068.1 479.5L1068.5 477L1069 474.5L1069.4 472.1L1069.9 469.6L1070.3 467.2L1070.7 464.7L1071.2 462.2L1071.6 459.8L1072.1 457.3L1072.5 454.8L1072.9 452.4L1073.4 449.9L1073.8 447.4L1074.3 445L1074.7 442.5L1075.1 440L1075.6 437.6L1076 435.1L1076.5 432.6L1076.9 430.2L1077.3 427.7L1077.8 425.3L1078.2 422.8L1078.7 420.3L1079.1 417.9L1079.5 415.4L1080 412.9L1080.4 410.5L1080.8 408L1081.3 405.5L1081.7 403.1L1082.2 400.6L1082.6 398.1L1083 395.7L1083.5 393.2L1083.9 390.7L1084.4 388.3L1084.8 385.8L1085.2 383.3L1085.7 380.9L1086.1 378.4L1086.6 376L1087 373.5L1087.5 371L1087.9 368.6L1088.4 366.1L1088.8 363.6L1089.2 361.2L1089.7 358.7L1090.1 356.2L1090.6 353.8L1091 351.3L1091.5 348.9L1091.9 346.4L1092.4 343.9L1092.9 341.5L1093.3 339L1093.8 336.5L1094.2 334.1L1094.7 331.6L1095.1 329.2L1095.6 326.7L1096.1 324.2L1096.5 321.8L1097 319.3L1097.5 316.9L1097.9 314.4L1098.4 311.9L1098.9 309.5L1099.3 307L1099.8 304.6L1100.3 302.1L1100.7 299.6L1101.2 297.2L1101.7 294.7L1102.2 292.3L1102.6 289.8L1103.1 287.4L1103.6 284.9L1104.1 282.4L1104.6 280L1105.1 277.5L1105.5 275.1L1106 272.6L1106.5 270.2L1107 267.7L1107.5 265.2L1108 262.8L1108.5 260.3L1109 257.9L1109.5 255.4L1110 253L1110.5 250.5L1110.9 248.1L1111.4 245.6L1111.9 243.2L1112.4 240.7L1112.9 238.2L1113.4 235.8L1114 233.3L1114.5 230.9L1115 228.4L1115.5 226L1116 223.5L1116.5 221.1L1117 218.6L1117.5 216.2L1118 213.7L1118.5 211.3L1119 208.8L1119.5 206.4L1120.1 203.9L1120.6 201.5L1121.1 199L1121.6 196.6L1122.2 194.1L1122.7 191.7L1123.2 189.2L1123.7 186.8L1124.3 184.3L1124.8 181.9L1125.4 179.5L1125.9 177L1126.5 174.6L1127 172.1L1127.6 169.7L1128.2 167.3L1128.7 164.8L1129.3 162.4L1129.9 160L1130.5 157.5L1131.1 155.1L1131.7 152.7L1132.3 150.2L1133 147.8L1133.6 145.4L1134.2 143L1134.8 140.5L1135.4 138.1L1136 135.7L1136.7 133.2L1137.3 130.8L1138 128.4L1138.6 126L1139.3 123.6L1140 121.2L1140.7 118.8L1141.5 116.4L1142.2 114L1143 111.6L1143.8 109.2L1144.6 106.9L1145.4 104.5L1146.2 102.1L1147.1 99.8L1147.9 97.4L1148.8 95.1L1149.7 92.8L1150.7 90.4L1151.6 88.1L1152.6 85.8L1153.6 83.5L1154.6 81.2L1155.7 79L1156.7 76.7L1157.9 74.5L1159 72.3L1160.3 70.1L1161.5 67.9L1162.9 65.8L1164.3 63.7L1165.8 61.7L1167.3 59.8L1169 57.9L1170.8 56.2L1172.8 54.6L1174.9 53.3L1177.2 52.4L1179.7 52.2L1182.1 52.9L1184.3 54.2L1186.2 55.8L1187.9 57.6L1189.5 59.5L1191 61.6L1192.3 63.7L1193.6 65.8L1194.8 68L1195.9 70.2L1197 72.5L1198.1 74.8L1199.1 77.1L1200 79.4L1201 81.7L1201.9 84L1202.7 86.4L1203.6 88.7L1204.4 91.1L1205.2 93.5L1206 95.8L1206.8 98.2L1207.6 100.6L1208.4 103L1209.2 105.4L1209.9 107.7L1210.7 110.1L1211.4 112.5L1212.2 114.9L1212.9 117.3L1213.6 119.7L1214.3 122.1L1215.1 124.5L1215.7 126.9L1216.4 129.3L1217.1 131.7L1217.8 134.1L1218.4 136.5L1219.1 139L1219.7 141.4L1220.4 143.8L1221 146.2L1221.6 148.7L1222.2 151.1L1222.8 153.5L1223.4 156L1224 158.4L1224.6 160.8L1225.2 163.3L1225.7 165.7L1226.3 168.1L1226.9 170.6L1227.4 173L1228 175.4L1228.6 177.9L1229.1 180.3L1229.7 182.8L1230.2 185.2L1230.8 187.7L1231.3 190.1L1231.9 192.5L1232.4 195L1233 197.4L1233.5 199.9L1234.1 202.3L1234.6 204.8L1235.2 207.2L1235.7 209.6L1236.3 212.1L1236.8 214.5L1237.4 217L1238 219.4L1238.5 221.8L1239.1 224.3L1239.7 226.7L1240.2 229.2L1240.8 231.6L1241.4 234L1242 236.5L1242.6 238.9L1243.2 241.3L1243.8 243.8L1244.4 246.2L1245 248.6L1245.7 251L1246.3 253.4L1247 255.9L1247.7 258.3L1248.4 260.7L1249.1 263.1L1249.8 265.5L1250.6 267.9L1251.3 270.2L1252 272.6L1252.7 275.1L1253.4 277.5L1254 279.9L1254.7 282.3L1255.3 284.7L1255.9 287.2L1256.5 289.6L1257.1 292L1257.7 294.5L1258.2 296.9L1258.8 299.3L1259.3 301.8L1259.9 304.2L1260.4 306.7L1260.9 309.1L1261.4 311.6L1261.9 314L1262.4 316.5L1262.9 318.9L1263.4 321.4L1263.9 323.9L1264.3 326.3L1264.8 328.8L1265.3 331.2L1265.7 333.7L1266.1 336.2L1266.6 338.6L1267 341.1L1267.4 343.6L1267.8 346L1268.2 348.5L1268.6 351L1269 353.4L1269.4 355.9L1269.8 358.4L1270.2 360.9L1270.6 363.3L1271 365.8L1271.3 368.3L1271.7 370.8L1272.1 373.2L1272.4 375.7L1272.8 378.2L1273.1 380.7L1273.5 383.2L1273.8 385.6L1274.2 388.1L1274.6 390.6L1274.9 393.1L1275.2 395.6L1275.6 398L1275.9 400.5L1276.3 403L1276.7 405.5L1277 408L1277.4 410.4L1277.7 412.9L1278.1 415.4L1278.4 417.9L1278.8 420.3L1279.2 422.8L1279.5 425.3L1279.9 427.8L1280.3 430.2L1280.7 432.7L1281.1 435.2L1281.5 437.7L1281.8 440.1L1282.3 442.6L1282.7 445.1L1283.1 447.5L1283.5 450L1283.9 452.5L1284.4 454.9L1284.8 457.4L1285.3 459.9L1285.7 462.3L1286.2 464.8L1286.7 467.3L1287.2 469.7L1287.6 472.2L1288.1 474.6L1288.7 477.1L1289.2 479.5L1289.7 482L1290.2 484.4L1290.8 486.9L1291.3 489.3L1291.9 491.7L1292.5 494.2L1293.1 496.6L1293.7 499L1294.3 501.5L1294.9 503.9L1295.5 506.3L1296.2 508.7L1296.8 511.2L1297.5 513.6L1298.1 516L1298.8 518.4L1299.6 520.8L1300.3 523.2L1301 525.6L1301.8 528L1302.6 530.3L1303.4 532.7L1304.2 535.1L1305 537.4L1305.9 539.8L1306.8 542.1L1307.6 544.5L1308.5 546.8L1309.3 549.2L1310.2 551.5L1311 553.9L1311.8 556.3L1312.6 558.7L1313.4 561L1314.2 563.4L1314.9 565.8L1315.7 568.2L1316.4 570.6L1317.1 573L1317.8 575.4L1318.5 577.8L1319.1 580.2L1319.8 582.6L1320.4 585.1L1321 587.5L1321.7 589.9L1322.3 592.3L1322.8 594.8L1323.4 597.2L1324 599.7L1324.5 602.1L1325.1 604.5L1325.6 607L1326.1 609.4L1326.7 611.9L1327.2 614.3L1327.7 616.8L1328.1 619.2L1328.6 621.7L1329.1 624.2L1329.6 626.6L1330 629.1L1330.5 631.5L1330.9 634L1331.3 636.5L1331.8 638.9L1332.2 641.4L1332.6 643.9L1333 646.3L1333.5 648.8L1333.9 651.3L1334.3 653.8L1334.7 656.2L1335.1 658.7L1335.5 661.2L1335.9 663.6L1336.3 666.1L1336.7 668.6L1337.1 671.1L1337.5 673.5L1337.9 676L1338.3 678.5L1338.7 680.9L1339.1 683.4L1339.5 685.9L1339.9 688.4L1340.3 690.8L1340.7 693.3L1341.1 695.8L1341.5 698.2L1341.9 700.7L1342.4 703.2L1342.8 705.6L1343.2 708.1L1343.7 710.6L1344.1 713L1344.6 715.5L1345 718L1345.5 720.4L1346 722.9L1346.5 725.3L1346.9 727.8L1347.4 730.2L1348 732.7L1348.5 735.1L1349 737.6L1349.5 740L1350.1 742.5L1350.7 744.9L1351.2 747.4L1351.8 749.8L1352.4 752.2L1353 754.7L1353.6 757.1L1354.3 759.5L1354.9 761.9L1355.6 764.3L1356.2 766.8L1356.9 769.2L1357.6 771.6L1358.3 774L1359 776.4L1359.8 778.7L1360.6 781.1L1361.4 783.5L1362.3 785.8L1363.2 788.2L1364.1 790.5L1365.2 792.8L1366.3 795L1367.5 797.2L1368.7 799.4L1370 801.5L1371.4 803.6L1372.8 805.7L1374.3 807.7L1375.8 809.7L1377.4 811.7L1378.9 813.6L1380.5 815.5L1382.2 817.4L1383.8 819.3L1385.4 821.2L1387 823.2L1388.6 825.1L1390.2 827L1391.8 829L1393.3 831L1394.7 833L1396.2 835.1L1397.5 837.2L1398.9 839.3L1400.2 841.4L1401.4 843.6L1402.6 845.8L1403.8 848L1404.9 850.2L1406.1 852.5L1407.1 854.7L1408.2 857L1409.3 859.2L1410.3 861.5L1411.4 863.8L1412.4 866.1L1413.4 868.4L1414.5 870.7L1415.5 872.9L1416.5 875.2L1417.6 877.5L1418.7 879.7L1419.8 882L1420.9 884.2L1422 886.5L1423.2 888.7L1424.4 890.9L1425.6 893.1L1426.8 895.2L1428.1 897.4L1429.5 899.5L1430.8 901.6L1432.2 903.7L1433.7 905.7L1435.2 907.7L1436.8 909.6L1438.4 911.6L1440.1 913.4L1441.8 915.2L1443.6 916.9L1445.5 918.6L1447.5 920.1L1449.5 921.6L1451.6 923L1453.8 924.2L1456.1 925.3L1458.4 926.2L1460.8 927L1463.2 927.6L1465.7 928L1468.1 928.2L1470.6 928.3L1473.1 928.1L1475.6 927.6L1478 927L1480.4 926.2L1482.7 925.1L1484.9 924L1487.1 922.8L1489.3 921.6L1491.4 920.3L1493.6 919.1L1495.8 917.9L1498 916.7L1500.3 915.6L1502.5 914.5L1504.8 913.5L1507.2 912.6L1509.5 911.8L1512 911.1L1514.4 910.6L1516.9 910.3L1519.4 910.1L1521.9 910.2L1524.4 910.6L1526.8 911.2L1529.2 912L1531.5 912.9L1533.7 914L1535.9 915.2L1538.1 916.5L1540.2 917.9L1542.2 919.3L1544.2 920.9L1546.2 922.4L1548.1 924L1550 925.6L1551.9 927.2L1553.8 928.8L1555.7 930.5L1557.6 932.1L1559.5 933.8L1561.4 935.4L1563.3 937L1565.3 938.6L1567.2 940.1L1569.2 941.6L1571.3 943.1L1573.3 944.5L1575.4 945.9L1577.6 947.1L1579.8 948.3L1582.1 949.3L1584.4 950.2L1586.8 951L1589.2 951.7L1591.6 952.3L1594.1 952.8L1596.6 953.3L1599 953.6L1601.5 954L1604 954.2L1606.5 954.5L1609 954.7L1611.5 955L1614 955.2L1616.5 955.4L1619 955.7L1621.5 955.9L1623.9 956.1L1626.4 956.3L1628.9 956.5L1631.4 956.7L1633.9 956.9L1636.4 957.1L1638.9 957.2L1641.4 957.4L1643.9 957.5L1646.4 957.6L1648.9 957.7L1651.4 957.8L1653.9 957.9L1656.4 958L1658.9 958.1L1661.4 958.1L1663.9 958.2L1666.5 958.2L1669 958.2L1671.5 958.3L1674 958.3L1676.5 958.3L1679 958.3L1681.5 958.3L1684 958.3L1686.5 958.2L1689 958.2L1691.5 958.2L1694 958.1L1696.5 958.1L1699 958L1701.5 958L1704 957.9L1706.5 957.8L1709 957.8"/>
</g>
<g fill="#000" shape-rendering="crispEdges">
<rect x="89" y="974" width="1625" height="10"/>
<rect x="90" y="984" width="10" height="40"/><rect x="171" y="984" width="10" height="20"/><rect x="252" y="984" width="10" height="20"/><rect x="332" y="984" width="10" height="20"/><rect x="413" y="984" width="10" height="20"/><rect x="494" y="984" width="10" height="40"/><rect x="575" y="984" width="10" height="20"/><rect x="655" y="984" width="10" height="20"/><rect x="736" y="984" width="10" height="20"/><rect x="817" y="984" width="10" height="20"/><rect x="898" y="984" width="9" height="40"/><rect x="978" y="984" width="10" height="20"/><rect x="1058" y="984" width="10" height="20"/><rect x="1139" y="984" width="10" height="20"/><rect x="1220" y="984" width="10" height="20"/><rect x="1301" y="984" width="10" height="40"/><rect x="1381" y="984" width="10" height="20"/><rect x="1462" y="984" width="10" height="20"/><rect x="1543" y="984" width="10" height="20"/><rect x="1624" y="984" width="9" height="20"/><rect x="1704" y="984" width="10" height="40"/>
</g>
<g filter="url(#bw)"><text x="95.0" y="1109" text-anchor="middle">10.0</text><text x="498.0" y="1109" text-anchor="middle">12.5</text><text x="903.0" y="1109" text-anchor="middle">15.0</text><text x="1305.5" y="1109" text-anchor="middle">17.5</text><text x="1708.0" y="1109" text-anchor="middle">20.0</text>
<text x="651.8" y="1194.5" textLength="500.1" lengthAdjust="spacing">elution time (min)</text>
</g>
</svg>
</body>
</html>
